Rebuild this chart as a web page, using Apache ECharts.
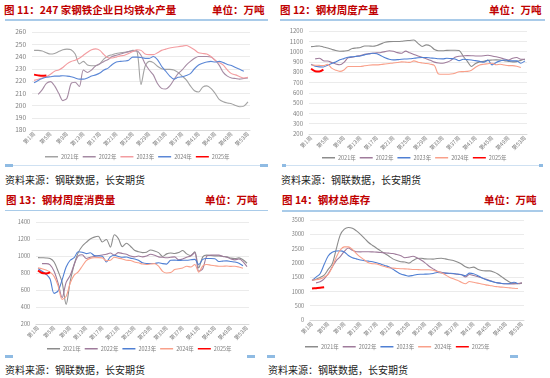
<!DOCTYPE html>
<html lang="zh">
<head>
<meta charset="UTF-8">
<title>钢材周度数据</title>
<script src="https://cdn.jsdelivr.net/npm/echarts@6/dist/echarts.min.js"></script>
<style>
  body { margin: 0; background: #fff; }
  #page { position: relative; width: 550px; height: 378px; overflow: hidden; font-family: "Noto Sans CJK SC", sans-serif; }
  .ttl { position: absolute; font-size: 10.5px; font-weight: bold; color: #c00000; line-height: 12px; white-space: nowrap; }
  .src { position: absolute; font-size: 10px; color: #222; line-height: 12px; white-space: nowrap; }
  .bar { position: absolute; height: 1.5px; background: #a9cbe9; }
  .sq { position: absolute; width: 8px; height: 3px; background: #8fbbe3; }
  .chart { position: absolute; width: 275px; height: 190px; }
</style>
</head>
<body>
<div id="page">
  <div class="ttl" style="left:4px;top:4px">图 11：247 家钢铁企业日均铁水产量</div>
  <div class="ttl" style="left:212px;top:4px">单位：万吨</div>
  <div class="ttl" style="left:280px;top:4px">图 12：钢材周度产量</div>
  <div class="ttl" style="left:489px;top:4px">单位：万吨</div>
  <div class="ttl" style="left:6px;top:194px">图 13：钢材周度消费量</div>
  <div class="ttl" style="left:205px;top:194px">单位：万吨</div>
  <div class="ttl" style="left:282px;top:194px">图 14：钢材总库存</div>
  <div class="ttl" style="left:484px;top:194px">单位：万吨</div>

  <div class="bar" style="left:5px;top:19px;width:263px"></div>
  <div class="bar" style="left:280px;top:19px;width:265px"></div>
  <div class="bar" style="left:5px;top:209.5px;width:263px"></div>
  <div class="bar" style="left:282px;top:210px;width:261px"></div>

  <div class="bar" style="left:5px;top:164.5px;width:263px;background:#cfe1f2"></div>
  <div class="bar" style="left:282px;top:164.5px;width:261px;background:#cfe1f2"></div>
  <div class="sq" style="left:5px;top:164px"></div>
  <div class="sq" style="left:260px;top:164px"></div>
  <div class="sq" style="left:282px;top:164px;width:4px"></div>
  <div class="sq" style="left:539px;top:164px;width:4px"></div>
  <div class="sq" style="left:5px;top:354.5px"></div>
  <div class="sq" style="left:247px;top:354.5px"></div>
  <div class="sq" style="left:267px;top:354.5px"></div>
  <div class="sq" style="left:510px;top:354.5px"></div>

  <div class="src" style="left:5px;top:174px">资料来源：钢联数据，长安期货</div>
  <div class="src" style="left:281px;top:174px">资料来源：钢联数据，长安期货</div>
  <div class="src" style="left:5px;top:364px">资料来源：钢联数据，长安期货</div>
  <div class="src" style="left:268px;top:364px">资料来源：钢联数据，长安期货</div>

  <div id="c1" class="chart" style="left:0;top:0"></div>
  <div id="c2" class="chart" style="left:275px;top:0"></div>
  <div id="c3" class="chart" style="left:0;top:188px"></div>
  <div id="c4" class="chart" style="left:275px;top:188px"></div>
</div>
<script type="text/javascript">
    "use strict"
    var weeks = [];
    for (var i = 1; i <= 53; i++) weeks.push('第' + i + '周');
    var years = ['2021年', '2022年', '2023年', '2024年', '2025年'];

    // 图11 日均铁水产量
    var iron2021 = [245,245,244.5,243,242,242.5,244,245.5,246,245.5, 242,234,236,233,232.5,232.5,234,238,240.5,241.5,
        242.5,243,243.5,244,245,244.5,217,232,236,235, 232,230,229.5,229.5,229,227,224,221,216,212,
        211,215,216,214,210,205,203,202,201.5,200, 199,199.5,203];
    var iron2022 = [null,209,213,218,219.5,216,210,204,206,218, 219,215.5,229,227,229,232.5,234,236,237.5,240,
        241,242,243,244,244.5,244.5,241,234,229,225, 218,214,213.5,216,221,226,229,233,236,238.5,
        240,240,240,239.5,237,233,227,224,222.5,222, 221.5,222,222.5];
    var iron2023 = [220.5,221.5,222.5,223.5,225.5,228,229,231,234,236, 237,238.5,241,243.5,245.5,246.2,245,241.5,239,238.8,
        239.5,240.5,241,242.5,244,245.5,245,242,241.5,241.5, 243,245,246,247,247.5,248,248.5,249,247.5,245.5,
        243,242.5,242,240,237,235,233,229,226,225, 223.5,222.5,223];
    var iron2024 = [218.5,220.5,222,223,223.5,224,224,224.3,224,223.5, 222.5,221.5,221.5,222.5,224,225,226.5,229,230.5,233.5,
        235.5,236,236.3,237,239.5,239.5,239.2,238.5,238.5,240, 237.5,232,228,224,221.5,223,223.5,224.5,226,230,
        233,234.5,235.5,236,235.5,236,235,233.5,232.7,231, 229.5,228,null];
    var iron2025 = [225.2,224.6,224.2,224.4];

    // 图12 钢材周度产量
    var output2021 = [1048,1052,1055,1045,1035,1022,1010,1004,1005,1010, 1030,1035,1040,1055,1055,1052,1060,1075,1090,1097,
        1098,1098,1100,1106,1108,1112,1080,1050,1065,1055, 1020,1008,1008,1012,1013,1013,1010,955,905,855,
        885,900,905,915,918,920,918,912,905,900, 903,915,925];
    var output2022 = [null,929,935,912,908,895,880,872,895,940, 945,955,962,974,980,984,988,992,1000,1008,
        1003,990,984,1005,988,972,958,945,930,915, 898,890,887,897,915,945,955,958,961,960,
        958,958,960,964,958,950,940,928,919,935, 942,926,926];
    var output2023 = [877,858,852,851,868,885,900,920,932,945, 950,954,958,968,976,984,980,960,940,926,
        920,922,926,928,930,935,940,942,942,938, 935,930,929,935,932,929,912,926,922,919,
        912,905,897,919,871,895,910,919,912,910, 910,887,910];
    var output2024 = [870,868,866,864,877,840,820,808,822,855, 855,855,855,862,868,871,871,875,880,885,
        890,894,900,898,895,910,897,890,885,878, 865,782,780,780,782,790,805,806,808,820,
        848,870,877,882,887,872,877,870,864,864, 858,845,null];
    var output2025 = [833,810,808,825];

    // 图13 钢材周度消费量
    var cons2021 = [981,979,977,970,930,820,690,430,700,900, 1040,1115,1160,1200,1222,1232,1165,1195,1105,1250,
        1205,1110,1150,1115,1068,1050,1040,1045,1070,1060, 1040,995,1025,1035,1030,1040,1065,1025,1005,1048,
        860,990,1010,1005,1002,1000,995,990,975,970, 978,955,915];
    var cons2022 = [null,910,910,895,820,680,510,690,770,900, 1000,1015,970,985,995,1005,1012,1020,1035,1010,
        1040,1030,1020,1000,990,1000,990,1000,1020,1010, 990,985,980,985,990,955,965,985,1000,1040,
        820,850,1000,1010,1012,1010,995,985,965,955, 965,935,875];
    var cons2023 = [853,820,785,730,560,590,720,870,950,980, 1050,1045,1028,1038,1005,1000,998,930,990,1008,
        995,985,988,975,965,950,920,912,912,912, 920,910,905,950,952,948,950,950,955,960,
        900,960,970,970,968,935,940,943,935,930, 915,885,null];
    var cons2024 = [860,850,835,810,760,650,490,525,680,775, 813,880,945,972,980,981,978,945,950,985,
        975,965,950,948,930,920,905,900,905,910, 880,820,800,805,840,850,860,880,870,900,
        810,885,900,892,885,880,880,882,878,880, 870,855,null];
    var cons2025 = [830,800,795,808];

    // 图14 钢材总库存
    var stock2021 = [1383,1430,1490,1570,1771,1960,2480,2980,3180,3240, 3215,3120,3000,2860,2712,2610,2510,2420,2330,2240,
        2140,2080,2040,2030,1990,2080,2150,2160,2140,2135, 2130,2150,2160,2140,2110,2080,2030,1960,1860,1820,
        1850,1780,1735,1721,1720,1680,1610,1510,1410,1320, 1275,1270,1290];
    var stock2022 = [null,1300,1340,1440,1620,1850,2080,2220,2400,2520, 2440,2390,2385,2390,2390,2383,2375,2365,2350,2340,
        2325,2290,2250,2180,2200,2230,2180,2100,2000,1880, 1790,1710,1670,1640,1630,1620,1600,1590,1510,1590,
        1560,1520,1480,1430,1380,1330,1300,1280,1270,1265, 1265,1275,1300];
    var stock2023 = [1383,1500,1620,1940,2241,2370,2415,2420,2380,2260, 2180,2140,2100,2075,2060,2040,2006,1960,1910,1860,
        1780,1690,1610,1570,1536,1560,1590,1600,1605,1612, 1630,1660,1650,1640,1635,1630,1610,1585,1550,1640,
        1620,1560,1480,1420,1370,1330,1300,1280,1270,1280, 1320,1270,null];
    var stock2024 = [1395,1410,1440,1500,1595,1850,2200,2450,2560,2560, 2470,2324,2200,2100,2000,1970,1960,1910,1870,1830,
        1815,1805,1795,1790,1780,1770,1765,1760,1760,1758, 1740,1700,1650,1580,1500,1440,1390,1320,1270,1350,
        1320,1290,1260,1230,1210,1180,1165,1150,1140,1125, 1110,1100,null];
    var stock2025 = [1100,1115,1130,1148];

    var colorsA = ['#a3a3a3', '#a58aa3', '#f39ca0', '#5b87d6', '#ff0000'];
    var colorsB = ['#8c8c8c', '#9f7b9b', '#4f7fd3', '#f9a08a', '#ff0000'];

    function build(domId, data, colors, yMin, yMax, yStep, grid, legendPos, yFont) {
        var chart = echarts.init(document.getElementById(domId), null, { renderer: 'canvas' });
        var series = years.map(function (name, i) {
            return {
                name: name,
                type: 'line',
                data: data[i],
                smooth: 0.3,
                symbol: 'none',
                lineStyle: { width: i === 4 ? 2 : 1.1, color: colors[i] },
                itemStyle: { color: colors[i] },
                z: i === 4 ? 10 : 2
            };
        });
        chart.setOption({
            animation: false,
            textStyle: { fontFamily: '"Noto Sans CJK SC", sans-serif' },
            grid: grid,
            legend: {
                data: years,
                left: legendPos.left,
                top: legendPos.top,
                icon: 'rect',
                itemWidth: 13,
                itemHeight: 1.5,
                itemGap: 4,
                padding: 0,
                textStyle: { fontSize: 5.5, color: '#7f7f7f', padding: [0, 0, 0, -2] }
            },
            xAxis: {
                type: 'category',
                data: weeks,
                boundaryGap: true,
                axisTick: { show: false },
                axisLine: { lineStyle: { color: '#d9d9d9' } },
                axisLabel: { interval: 3, rotate: 45, fontSize: 5.5, color: '#7f7f7f', margin: 3 }
            },
            yAxis: {
                type: 'value',
                min: yMin,
                max: yMax,
                interval: yStep,
                axisLine: { show: false },
                axisTick: { show: false },
                axisLabel: {
                    fontSize: yFont, color: '#7f7f7f', margin: 6,
                    formatter: function (v) { return String(v); }
                },
                splitLine: { lineStyle: { color: '#e6e6e6', width: 0.8 } }
            },
            series: series
        });
        return chart;
    }

    build('c1', [iron2021, iron2022, iron2023, iron2024, iron2025], colorsA, 180, 260, 10,
        { left: 32, top: 32, width: 218, height: 98 }, { left: 45, top: 154 }, 6.5);
    build('c2', [output2021, output2022, output2023, output2024, output2025], colorsB, 200, 1200, 100,
        { left: 34, top: 31, width: 218, height: 103 }, { left: 47, top: 155 }, 6);
    build('c3', [cons2021, cons2022, cons2023, cons2024, cons2025], colorsB, 200, 1400, 200,
        { left: 36, top: 34, width: 213, height: 102 }, { left: 47, top: 158 }, 5.5);
    build('c4', [stock2021, stock2022, stock2023, stock2024, stock2025], colorsB, 0, 3500, 500,
        { left: 35, top: 32, width: 214, height: 100 }, { left: 30, top: 156 }, 5.5);
</script>
</body>
</html>
